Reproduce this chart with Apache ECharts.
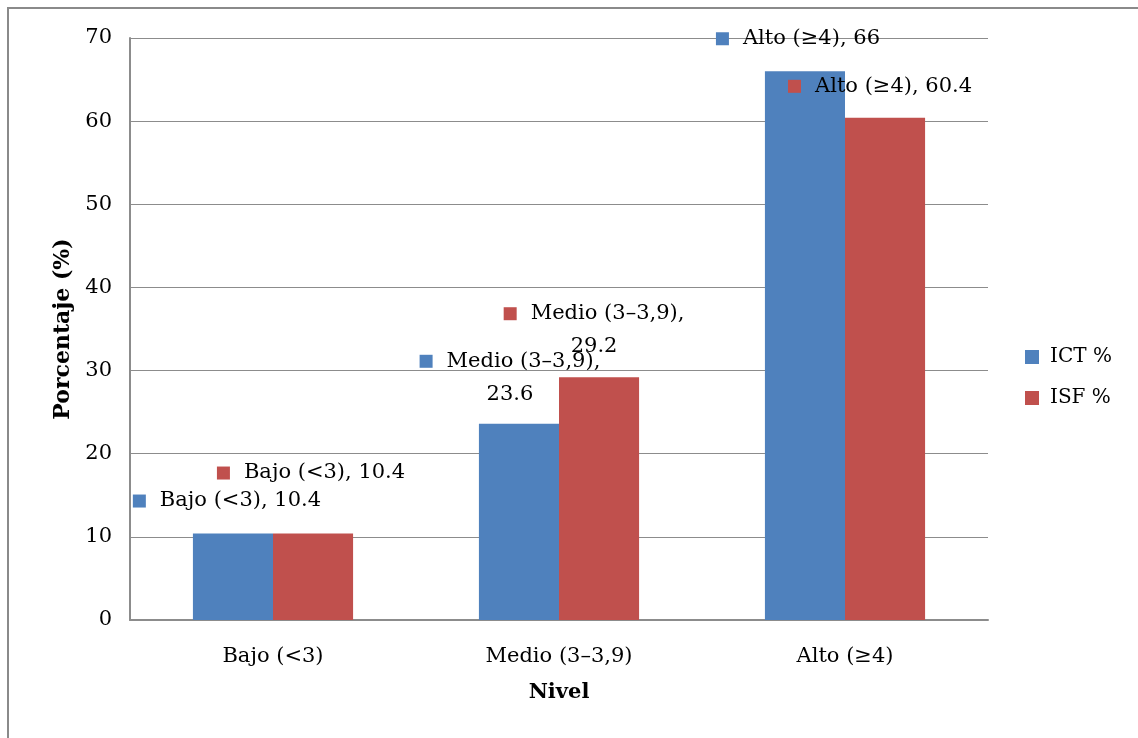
<!DOCTYPE html>
<html>
<head>
<meta charset="utf-8">
<script src="https://cdn.jsdelivr.net/npm/echarts@6/dist/echarts.min.js"></script>
<style>
    html, body {margin: 0; padding: 0; background: #fff; overflow: hidden;}
    #chart {width: 1138px; height: 738px;}
</style>
</head>
<body>
<div id="chart"></div>
<script>
// niveles y porcentajes
const categories = ['Bajo (<3)', 'Medio (3–3,9)', 'Alto (≥4)'];
const seriesNames = ['ICT %', 'ISF %'];
const ictValues = [10.4, 23.6, 66];
const isfValues = [10.4, 29.2, 60.4];
const yTicks = {min: 0, max: 70, interval: 10};

const colors = ['#4F81BD', '#C0504D'];
const FONT = 'DejaVu Serif';

// desplazamiento de cada etiqueta respecto a la barra (como en Excel)
const ictLabelOffsets = [[-6, -11], [-9, -8], [-7, -11]];
const isfLabelOffsets = [[-2, -39], [-5, -9], [-5, -10]];
const wrapLabel = [false, true, false];

function build_bar_data(values, offsets) {
    return values.map(function (v, i) {
        return {
            value: v,
            label: {offset: offsets[i]}
        };
    });
}

function build_label(color) {
    return {
        show: true,
        position: 'top',
        distance: 5,
        formatter: function (p) {
            if (wrapLabel[p.dataIndex]) {
                return `{m|}{s|}{t|${p.name},}\n{t|${p.value}}`;
            }
            return `{m|}{s|}{t|${p.name}, ${p.value}}`;
        },
        rich: {
            m: {width: 13, height: 13, backgroundColor: color, align: 'center', verticalAlign: 'middle'},
            s: {width: 14, height: 13, align: 'center'},
            t: {fontFamily: FONT, fontSize: 21, color: '#000', lineHeight: 33, align: 'center', verticalAlign: 'middle'}
        }
    };
}

let chart = echarts.init(document.getElementById('chart'), null, {renderer: 'canvas'});

chart.setOption({
    animation: false,
    color: colors,
    textStyle: {fontFamily: FONT},
    graphic: [{
        type: 'rect',
        shape: {x: 8, y: 8, width: 3000, height: 3000},
        style: {fill: 'none', stroke: '#8a8a8a', lineWidth: 2},
        silent: true
    }],
    grid: {left: 130, right: 150, top: 38, bottom: 118},
    legend: {
        orient: 'vertical',
        left: 1020,
        top: 342,
        itemWidth: 14,
        itemHeight: 14,
        itemGap: 21,
        icon: 'rect',
        textStyle: {fontFamily: FONT, fontSize: 20, color: '#000', padding: [0, 0, 0, 6]},
        data: seriesNames
    },
    xAxis: {
        type: 'category',
        data: categories,
        axisLine: {lineStyle: {color: '#8c8c8c', width: 2}},
        axisTick: {show: false},
        axisLabel: {fontFamily: FONT, fontSize: 21, color: '#000', margin: 26},
        name: 'Nivel',
        nameLocation: 'middle',
        nameGap: 62,
        nameTextStyle: {fontFamily: FONT, fontSize: 21, fontWeight: 'bold', color: '#000'}
    },
    yAxis: {
        type: 'value',
        min: yTicks.min,
        max: yTicks.max,
        interval: yTicks.interval,
        axisLine: {show: true, lineStyle: {color: '#8c8c8c', width: 2}},
        axisTick: {show: false},
        splitLine: {lineStyle: {color: '#8c8c8c', width: 1}},
        axisLabel: {fontFamily: FONT, fontSize: 21, color: '#000', margin: 18},
        name: 'Porcentaje (%)',
        nameLocation: 'middle',
        nameGap: 56,
        nameRotate: 90,
        nameTextStyle: {fontFamily: FONT, fontSize: 22, fontWeight: 'bold', color: '#000'}
    },
    series: [
        {
            type: 'bar',
            name: seriesNames[0],
            data: build_bar_data(ictValues, ictLabelOffsets),
            barGap: '0%',
            barCategoryGap: '44%',
            label: build_label(colors[0]),
            z: 2
        },
        {
            type: 'bar',
            name: seriesNames[1],
            data: build_bar_data(isfValues, isfLabelOffsets),
            barGap: '0%',
            barCategoryGap: '44%',
            label: build_label(colors[1]),
            z: 2
        }
    ]
});
</script>
</body>
</html>
